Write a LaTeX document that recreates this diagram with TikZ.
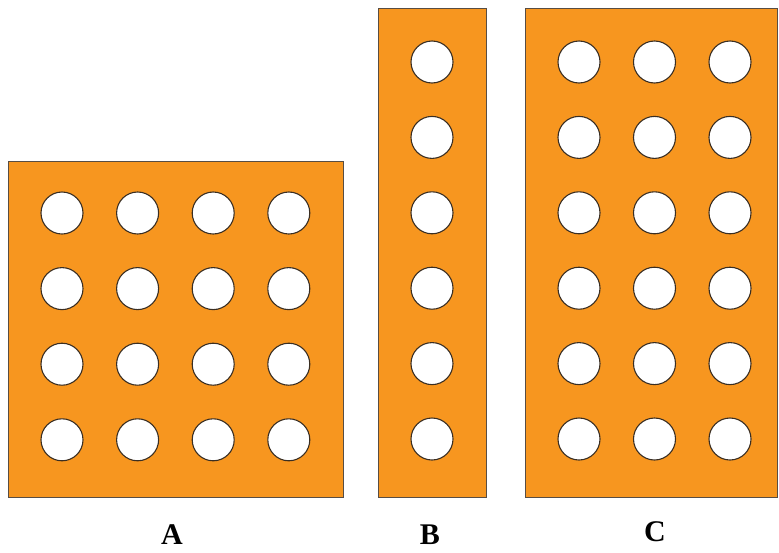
\documentclass[tikz,border=0pt]{standalone}
\usepackage{fontspec}
\setmainfont{Liberation Serif}
\usepackage{tikz}
\usetikzlibrary{calc,positioning}
\definecolor{plate}{HTML}{F7961F}
\definecolor{rim}{HTML}{3A2E22}

\begin{document}
\begin{tikzpicture}[x=1pt,y=-1pt]
                \useasboundingbox (0,0) rectangle (779,552);
                % plates
                \draw[fill=plate, draw=rim!85, line width=0.9pt] (8,161) rectangle (343,497);
                \draw[fill=plate, draw=rim!85, line width=0.9pt] (378,8) rectangle (486,497);
                \draw[fill=plate, draw=rim!85, line width=0.9pt] (525,8) rectangle (777,497);
                % holes of A
                \foreach \i in {0,...,3}
                  \foreach \j in {0,...,3}
                    \draw[fill=white, draw=rim, line width=1.1pt] (62+75.6*\i,213+75.6*\j) circle (21);
                % holes of B
                \foreach \j in {0,...,5}
                  \draw[fill=white, draw=rim, line width=1.1pt] (432,62+75.4*\j) circle (21);
                % holes of C
                \foreach \i in {0,...,2}
                  \foreach \j in {0,...,5}
                    \draw[fill=white, draw=rim, line width=1.1pt] (579+75.5*\i,62+75.4*\j) circle (21);
                % labels
                \node (labA) at (172,535) {\fontsize{30}{36}\selectfont\bfseries A};
                \node (labB) at (430,535) {\fontsize{30}{36}\selectfont\bfseries B};
                \node (labC) at (655,532) {\fontsize{30}{36}\selectfont\bfseries C};
              \end{tikzpicture}
\end{document}
